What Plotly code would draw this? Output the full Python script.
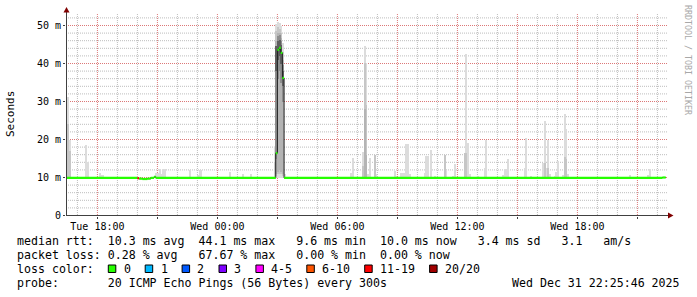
import plotly.graph_objects as go
import pandas as pd

# ---------------------------------------------------------------- data
TUE = "2025-12-30 "
WED = "2025-12-31 "

t_start = TUE + "16:25:46"
t_end = WED + "22:25:46"

# median RTT (ms) as runs: value holds from med_from[k] until med_from[k+1]
med_from = [TUE + "16:25", TUE + "20:00", TUE + "20:05", TUE + "20:15", TUE + "20:30",
            TUE + "20:40", TUE + "20:50", TUE + "20:55", WED + "02:55", WED + "03:00",
            WED + "03:05", WED + "03:10", WED + "03:15", WED + "03:20", WED + "22:15"]
med_value = [9.9, 9.8, 9.7, 9.6, 9.7, 9.9, 10.2, 9.9, 16.4, 43.6, 44.1, 42.8, 36.2, 9.9, 10.0]
med_loss = [0, 6, 0, 0, 0, 0, 0, 0, 0, 0, 0, 0, 0, 0, 0]   # index into loss categories
med_until = WED + "22:25"

loss_labels = ["0", "1", "2", "3", "4-5", "6-10", "11-19", "20/20"]
loss_colors = ["#26ff00", "#00b8ff", "#0059ff", "#7e00ff", "#ff00ff", "#ff5500", "#ff0000", "#a10000"]

# smoke layers (ms), each entry is a 5-minute step identified by its end time
# layer 1 = spread of all pings (outermost), higher layers = inner ping pairs
s1_time = [TUE + t for t in ["16:35", "16:40", "17:30", "17:35", "18:10", "18:15", "18:20",
                             "21:00", "21:05", "21:10", "21:15", "21:20", "21:25", "22:40",
                             "23:05", "23:10", "23:15"]] + \
          [WED + t for t in ["00:40", "01:20", "01:45", "02:55", "03:00", "03:05", "03:10",
                             "03:15", "03:20", "03:25", "06:45", "06:50", "07:20", "07:25",
                             "07:30", "07:35", "07:40", "07:55", "08:00", "08:55", "09:00",
                             "09:15", "09:20", "09:25", "09:30", "09:35", "09:40", "10:25",
                             "10:30", "10:35", "10:45", "10:55", "11:25", "11:30", "11:50",
                             "11:55", "12:25", "12:30", "12:35", "12:40", "13:05", "13:25",
                             "13:30", "14:20", "14:25", "14:30", "14:35", "15:25", "15:30",
                             "15:45", "16:20", "16:25", "16:30", "16:35", "16:40", "16:55",
                             "17:00", "17:05", "17:20", "17:25", "17:30", "17:35", "20:40",
                             "21:35", "21:40"]]
s1_high = [31.3, 20.0, 18.5, 14.1, 11.1, 10.6, 10.6,
           11.1, 11.1, 12.2, 11.0, 12.2, 12.2, 12.0,
           10.6, 12.0, 12.0,
           11.5, 11.0, 10.8, 18.0, 50.5, 50.8, 50.6,
           49.8, 45.5, 11.0, 11.1, 15.2, 16.8, 44.7,
           40.1, 11.0, 15.2, 15.9, 11.0, 11.6, 10.5,
           11.1, 11.1, 11.1, 18.8, 18.8, 10.9, 11.3,
           15.7, 15.7, 17.2, 10.3, 15.9, 12.0, 10.5,
           13.6, 16.5, 42.5, 19.1, 11.0, 10.5, 12.5,
           20.0, 10.6, 12.2, 12.2, 14.8, 12.4, 20.3,
           10.4, 13.7, 24.9, 12.4, 20.0, 11.0, 10.4,
           11.5, 14.3, 10.6, 26.7, 22.7, 11.0, 10.6,
           10.6, 12.3]
s1_low = [9.8] * len(s1_high)

s2_time = [TUE + "16:35", TUE + "16:40", WED + "02:55", WED + "03:00", WED + "03:05",
           WED + "03:10", WED + "03:15", WED + "03:20", WED + "07:20", WED + "07:25",
           WED + "07:30", WED + "07:55", WED + "11:25", WED + "12:25", WED + "12:30",
           WED + "16:25", WED + "16:35", WED + "17:25", WED + "17:30"]
s2_low = [9.8, 9.8, 9.8, 10.3, 10.8, 10.8, 10.8, 10.4, 9.8, 9.9, 9.9, 9.8, 9.8, 9.8, 9.8,
          9.8, 9.8, 9.8, 9.8]
s2_high = [24.0, 17.0, 14.0, 48.5, 49.5, 49.2, 48.0, 43.0, 13.0, 40.1, 29.0, 15.9, 15.9,
           16.5, 16.5, 13.7, 12.4, 15.4, 15.0]

s3_time = [WED + "03:00", WED + "03:05", WED + "03:10", WED + "03:15", WED + "03:20",
           WED + "07:25", WED + "07:30"]
s3_low = [10.8, 11.5, 12.0, 11.5, 10.8, 10.0, 10.0]
s3_high = [46.0, 48.0, 48.0, 46.8, 41.0, 28.0, 16.0]

s4_time = [WED + "03:00", WED + "03:05", WED + "03:10", WED + "03:15", WED + "03:20"]
s4_low = [15.0, 36.0, 38.0, 35.0, 30.0]
s4_high = [44.0, 47.2, 47.5, 46.0, 39.5]

s5_time = [WED + "03:00", WED + "03:05", WED + "03:10", WED + "03:15", WED + "03:20"]
s5_low = [38.0, 41.0, 42.0, 40.0, 34.0]
s5_high = [44.5, 46.0, 46.3, 44.8, 38.0]

# axis ticks
x_ticks = [TUE + "18:00", TUE + "21:00", WED + "00:00", WED + "03:00", WED + "06:00",
           WED + "09:00", WED + "12:00", WED + "15:00", WED + "18:00", WED + "21:00"]
x_labels = ["Tue 18:00", "", "Wed 00:00", "", "Wed 06:00", "", "Wed 12:00", "",
            "Wed 18:00", ""]
y_ticks = [0, 10, 20, 30, 40, 50]
y_labels = ["0", "10 m", "20 m", "30 m", "40 m", "50 m"]

stat_rtt = "median rtt:  10.3 ms avg  44.1 ms max   9.6 ms min  10.0 ms now   3.4 ms sd   3.1   am/s"
stat_loss = "packet loss: 0.28 % avg   67.67 % max   0.00 % min  0.00 % now"
stat_probe = "probe:       20 ICMP Echo Pings (56 Bytes) every 300s"
stamp = "Wed Dec 31 22:25:46 2025"

# ---------------------------------------------------------------- layout constants
W, H = 697, 297
L, R, T, B = 66, 31, 13, 81
PW = W - L - R            # 600
PH = H - T - B            # 203  (plot spans y 13..216)
SCALE = 3.8               # px per ms
Y_MIN = -0.5 / SCALE      # puts 0 ms on pixel row 215
Y_MAX = Y_MIN + PH / SCALE
FONT = "DejaVu Sans Mono"
MAJ = "#dc7878"
MIN = "#bdbdbd"
AXC = "#404040"
ARROW = "#800000"
SMOKE = ["#dcdcdc", "#c6c6c6", "#b4b4b4", "#8e8e8e", "#5e5e5e"]
STEP = pd.Timedelta(minutes=5)
DASH = "1px,1px"


def px(x):
    return (x - L) / PW


def py(y):
    return (T + PH - y) / PH


def nb(s):
    return s.replace(" ", "\u00a0")


fig = go.Figure()

# smoke
layers = [(s1_time, s1_low, s1_high), (s2_time, s2_low, s2_high), (s3_time, s3_low, s3_high),
          (s4_time, s4_low, s4_high), (s5_time, s5_low, s5_high)]
for k, (tt, lo, hi) in enumerate(layers):
    centers = [pd.Timestamp(t) - STEP / 2 for t in tt]
    fig.add_trace(go.Bar(
        x=centers, base=lo, y=[h - l for h, l in zip(hi, lo)],
        width=STEP.total_seconds() * 1000,
        marker=dict(color=SMOKE[k], line=dict(width=0)), opacity=1,
        hoverinfo="skip", showlegend=False))

# dark median line (visible on the vertical transitions)
run_start = [pd.Timestamp(t) for t in med_from]
run_end = run_start[1:] + [pd.Timestamp(med_until)]
fig.add_trace(go.Scatter(
    x=run_start + [run_end[-1]], y=med_value + [med_value[-1]],
    mode="lines", line=dict(color="#202020", width=1, shape="hv"),
    hoverinfo="skip", showlegend=False))

# loss-coloured median band
for c, col in enumerate(loss_colors):
    xs, ys = [], []
    for s, e, v, lc in zip(run_start, run_end, med_value, med_loss):
        if lc == c:
            xs += [s, e, None]
            ys += [v, v, None]
    if xs:
        fig.add_trace(go.Scatter(x=xs, y=ys, mode="lines",
                                 line=dict(color=col, width=2.2),
                                 hoverinfo="skip", showlegend=False))

fig.update_layout(
    width=W, height=H,
    margin=dict(l=L, r=R, t=T, b=B, pad=0, autoexpand=False),
    paper_bgcolor="white", plot_bgcolor="white",
    barmode="overlay", bargap=0, showlegend=False,
    font=dict(family=FONT, size=10, color="#000000"),
)
fig.update_xaxes(
    type="date", range=[t_start, t_end],
    tickmode="array", tickvals=x_ticks, ticktext=x_labels,
    showgrid=False, ticks="outside", ticklen=2, tickcolor=AXC, tickwidth=1,
    ticklabelstandoff=-1,
    showline=False, zeroline=False, fixedrange=True,
    tickfont=dict(family=FONT, size=10, color="#000000"),
)
fig.update_yaxes(
    range=[Y_MIN, Y_MAX], tickmode="array", tickvals=y_ticks, ticktext=y_labels,
    showgrid=False, ticks="outside", ticklen=2, tickcolor=AXC, tickwidth=1,
    showline=False, zeroline=False, fixedrange=True,
    tickfont=dict(family=FONT, size=10, color="#000000"),
)

shapes = []
# dotted grid: hours (minor) / 3 h (major) and 2 ms (minor) / 10 ms (major)
x_major_set = set(pd.to_datetime(x_ticks))
for t in pd.date_range(TUE + "17:00", WED + "22:00", freq="1h"):
    shapes.append(dict(type="line", xref="x", yref="paper", x0=t, x1=t, y0=py(215), y1=1,
                       layer="below",
                       line=dict(color=MAJ if t in x_major_set else MIN, width=1, dash=DASH)))
for v in range(2, 54, 2):
    shapes.append(dict(type="line", xref="paper", yref="y", x0=0, x1=px(668), y0=v, y1=v,
                       layer="below",
                       line=dict(color=MAJ if v % 10 == 0 else MIN, width=1, dash=DASH)))

shapes += [
    dict(type="line", xref="paper", yref="paper", x0=px(66.5), x1=px(66.5), y0=py(216), y1=py(9),
         line=dict(color=AXC, width=1)),
    dict(type="line", xref="paper", yref="paper", x0=px(66), x1=px(669), y0=py(215.5), y1=py(215.5),
         line=dict(color=AXC, width=1)),
    dict(type="path", xref="paper", yref="paper",
         path=f"M {px(63.5)} {py(12.5)} L {px(69.5)} {py(12.5)} L {px(66.5)} {py(7)} Z",
         fillcolor=ARROW, line=dict(width=0)),
    dict(type="path", xref="paper", yref="paper",
         path=f"M {px(668)} {py(212.5)} L {px(668)} {py(218.5)} L {px(673.5)} {py(215.5)} Z",
         fillcolor=ARROW, line=dict(width=0)),
]

ann = []


def text(x, y, s, anchor="left", size=11.6, color="#000000", angle=0):
    ann.append(dict(x=px(x), y=py(y), xref="paper", yref="paper", text=nb(s),
                    showarrow=False, xanchor=anchor, yanchor="middle", borderpad=0,
                    textangle=angle, font=dict(family=FONT, size=size, color=color)))


text(16, 241, stat_rtt)
text(16, 255, stat_loss)
text(16, 269, "loss color:")
text(16, 283, stat_probe)
text(681, 283, stamp, anchor="right")
text(11, 114, "Seconds", anchor="center", size=11, angle=-90)
text(688, 60, "RRDTOOL / TOBI OETIKER", anchor="center", size=8.3, color="#a8a8a8", angle=90)

bx = 108.3
for lab, col in zip(loss_labels, loss_colors):
    shapes.append(dict(type="rect", xref="paper", yref="paper",
                       x0=px(bx), x1=px(bx + 7.5), y0=py(272.5), y1=py(265),
                       fillcolor=col, line=dict(color="#000000", width=1)))
    text(bx + 14.3, 269, lab)
    bx += 7.5 + 6.8 + 7 * len(lab) + 15.6

fig.update_layout(shapes=shapes, annotations=ann)
fig.write_html("out.html")
